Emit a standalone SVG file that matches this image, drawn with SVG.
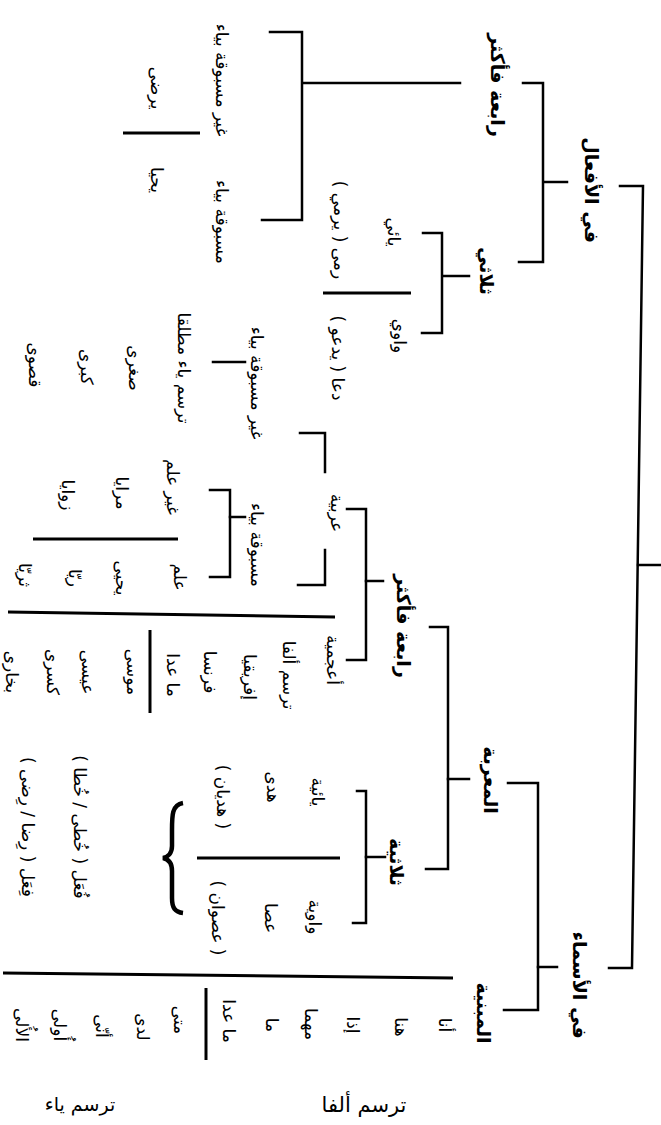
<svg xmlns="http://www.w3.org/2000/svg" width="661" height="1125" viewBox="0 0 661 1125">
<style>
text{font-family:"DejaVu Sans",sans-serif;text-anchor:middle;dominant-baseline:central;direction:rtl;fill:#000}
.b{font-weight:bold;font-size:19px}
.r{font-size:17px}
.h{dominant-baseline:alphabetic}
.c{stroke:#000;stroke-width:2.5;fill:none;stroke-linecap:square}
.sep{stroke:#000;stroke-width:3;fill:none}
</style>
<rect width="661" height="1125" fill="#fff"/>
<g id="connectors" class="c">
<polyline points="620,186 643,186 632,968 609,968"/>
<line x1="638" y1="565" x2="661" y2="565"/>
<polyline points="523,83 543,83 543,262 519,262"/>
<line x1="545" y1="182" x2="567" y2="182"/>
<line x1="303" y1="83" x2="460" y2="83"/>
<polyline points="270,32 302,32 302,220 262,220"/>
<polyline points="423,233 442,233 442,333 422,333"/>
<line x1="443" y1="276" x2="469" y2="276"/>
<polyline points="508,783 538,783 538,1010 504,1010"/>
<line x1="538" y1="967" x2="557" y2="967"/>
<polyline points="430,627 448,627 448,869 426,869"/>
<line x1="448" y1="779" x2="469" y2="779"/>
<polyline points="347,509 366,509 366,660 347,660"/>
<line x1="366" y1="581" x2="383" y2="581"/>
<polyline points="300,433 325,433 325,472"/>
<polyline points="325,550 325,585 298,585"/>
<line x1="213" y1="362" x2="245" y2="362"/>
<polyline points="210,490 230,490 230,577 210,577"/>
<line x1="230" y1="517" x2="245" y2="517"/>
<polyline points="357,791 366,791 366,923 353,923"/>
<line x1="366" y1="857" x2="385" y2="857"/>
</g>
<g id="separators" class="sep">
<line x1="123" y1="133" x2="200" y2="133"/>
<line x1="323" y1="293" x2="411" y2="293"/>
<line x1="33" y1="539" x2="178" y2="539"/>
<line x1="8" y1="612" x2="335" y2="617"/>
<line x1="150" y1="630" x2="150" y2="713"/>
<line x1="197" y1="858" x2="340" y2="858"/>
<line x1="3" y1="973" x2="453" y2="978"/>
<line x1="206" y1="988" x2="206" y2="1060"/>
<path d="M183,803 C172,805 172,815 172,830 L172,846 C172,853 168,857 163,858 C168,859 172,863 172,871 L172,898 C172,908 175,912 183,913" stroke-width="4.5"/>
</g>
<g id="n-verbs"><text class="b" transform="translate(592,190) rotate(90)">في الأفعال</text></g>
<g id="n-nouns"><text class="b" transform="translate(580,985) rotate(90)">في الأسماء</text></g>
<g id="n-verb-quad"><text class="b" transform="translate(498,85) rotate(90)">رابعة فأكثر</text></g>
<g id="n-verb-tri"><text class="b" transform="translate(487,271) rotate(90)">ثلاثي</text></g>
<g id="n-murab"><text class="b" transform="translate(491,780) rotate(90)">المعربة</text></g>
<g id="n-mabni"><text class="b" transform="translate(484,1013) rotate(90)">المبنية</text></g>
<g id="n-noun-quad"><text class="b" transform="translate(404,626) rotate(90)">رابعة فأكثر</text></g>
<g id="n-noun-tri"><text class="b" transform="translate(397,862) rotate(90)">ثلاثية</text></g>
<g id="n-verb-ya"><text class="r" transform="translate(394,232) rotate(90)">يائي</text></g>
<g id="n-verb-waw"><text class="r" transform="translate(400,336) rotate(90)">واوي</text></g>
<g id="n-verb-ya-ex"><text class="r" transform="translate(340,230) rotate(90)">رمى ( يرمي )</text></g>
<g id="n-verb-waw-ex"><text class="r" transform="translate(338,358) rotate(90)">دعا ( يدعو )</text></g>
<g id="n-verb-notpre"><text class="r" transform="translate(222,80) rotate(90)">غير مسبوقة بياء</text></g>
<g id="n-verb-pre"><text class="r" transform="translate(222,222) rotate(90)">مسبوقة بياء</text></g>
<g id="n-verb-notpre-ex"><text class="r" transform="translate(157,88) rotate(90)">يرضى</text></g>
<g id="n-verb-pre-ex"><text class="r" transform="translate(157,180) rotate(90)">يحيا</text></g>
<g id="n-arabic"><text class="r" transform="translate(337,513) rotate(90)">عربية</text></g>
<g id="n-foreign"><text class="r" transform="translate(333,660) rotate(90)">أعجمية</text></g>
<g id="n-noun-notpre"><text class="r" transform="translate(257,383) rotate(90)">غير مسبوقة بياء</text></g>
<g id="n-noun-pre"><text class="r" transform="translate(257,545) rotate(90)">مسبوقة بياء</text></g>
<g id="n-ya-always"><text class="r" transform="translate(184,368) rotate(90)">ترسم ياء مطلقا</text>
<text class="r" transform="translate(135,368) rotate(90)">صغرى</text>
<text class="r" transform="translate(87,367) rotate(90)">كبرى</text>
<text class="r" transform="translate(35,365) rotate(90)">قصوى</text></g>
<g id="n-notname"><text class="r" transform="translate(173,487) rotate(90)">غير علم</text>
<text class="r" transform="translate(122,493) rotate(90)">مرايا</text>
<text class="r" transform="translate(68,495) rotate(90)">زوايا</text></g>
<g id="n-name"><text class="r" transform="translate(180,577) rotate(90)">علم</text>
<text class="r" transform="translate(122,578) rotate(90)">يحيى</text>
<text class="r" transform="translate(75,578) rotate(90)">ريّا</text>
<text class="r" transform="translate(25,575) rotate(90)">ثريّا</text></g>
<g id="n-foreign-ex"><text class="r" transform="translate(289,675) rotate(90)">ترسم ألفا</text>
<text class="r" transform="translate(250,677) rotate(90)">إفريقيا</text>
<text class="r" transform="translate(210,672) rotate(90)">فرنسا</text>
<text class="r" transform="translate(173,675) rotate(90)">ما عدا</text>
<text class="r" transform="translate(133,672) rotate(90)">موسى</text>
<text class="r" transform="translate(88,672) rotate(90)">عيسى</text>
<text class="r" transform="translate(53,672) rotate(90)">كسرى</text>
<text class="r" transform="translate(12,672) rotate(90)">بخارى</text></g>
<g id="n-noun-ya"><text class="r" transform="translate(318,792) rotate(90)">يائية</text>
<text class="r" transform="translate(273,787) rotate(90)">هدى</text>
<text class="r" transform="translate(223,797) rotate(90)">( هديان )</text></g>
<g id="n-noun-waw"><text class="r" transform="translate(315,917) rotate(90)">واوية</text>
<text class="r" transform="translate(271,918) rotate(90)">عصا</text>
<text class="r" transform="translate(218,918) rotate(90)">( عصوان )</text></g>
<g id="n-patterns"><text class="r" transform="translate(80,827) rotate(90)">فُعَل ( خُطى / خُطا )</text>
<text class="r" transform="translate(28,827) rotate(90)">فِعَل ( رِضا / رِضى )</text></g>
<g id="n-mabni-ex"><text class="r" transform="translate(445,1025) rotate(90)">أنا</text>
<text class="r" transform="translate(401,1027) rotate(90)">هنا</text>
<text class="r" transform="translate(353,1025) rotate(90)">إذا</text>
<text class="r" transform="translate(311,1024) rotate(90)">مهما</text>
<text class="r" transform="translate(272,1025) rotate(90)">ما</text>
<text class="r" transform="translate(229,1021) rotate(90)">ما عدا</text>
<text class="r" transform="translate(180,1020) rotate(90)">متى</text>
<text class="r" transform="translate(143,1027) rotate(90)">لدى</text>
<text class="r" transform="translate(102,1026) rotate(90)">أنّى</text>
<text class="r" transform="translate(60,1025) rotate(90)">أُولى</text>
<text class="r" transform="translate(22,1025) rotate(90)">الأُلى</text></g>
<g id="n-label-ya"><text class="h" x="80" y="1111" style="font-size:19px">ترسم ياء</text></g>
<g id="n-label-alif"><text class="h" x="364" y="1112" style="font-size:21px">ترسم ألفا</text></g>
</svg>
